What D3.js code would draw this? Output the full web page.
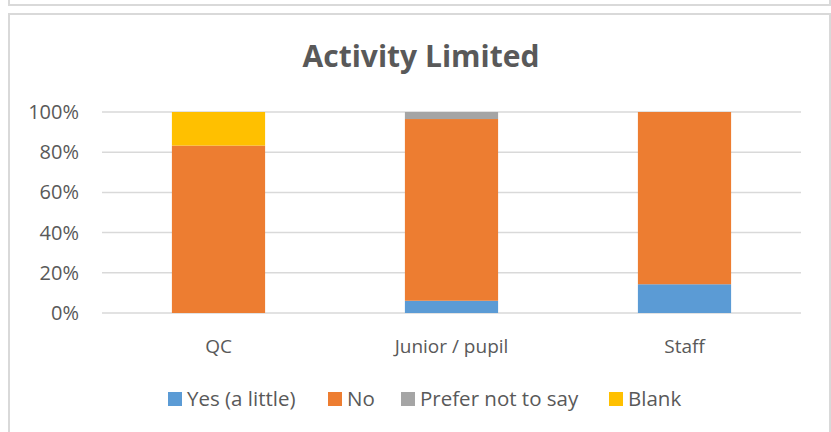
<!DOCTYPE html>
<html>
<head>
<meta charset="utf-8">
<script src="https://cdn.jsdelivr.net/npm/d3@7"></script>
<style>
  body { margin: 0; background: #fff; }
  svg { display: block; }
  text { font-family: "Open Sans", sans-serif; fill: #595959; }
</style>
</head>
<body>
<script>
var categories = ['QC', 'Junior / pupil', 'Staff'];
var seriesNames = ['Yes (a little)', 'No', 'Prefer not to say', 'Blank'];
var seriesColors = ['#5B9BD5', '#ED7D31', '#A5A5A5', '#FFC000'];
var yesValues = [0, 0.061, 0.143];
var noValues = [0.833, 0.904, 0.857];
var preferValues = [0, 0.035, 0];
var blankValues = [0.167, 0, 0];
var tickValues = [0, 0.2, 0.4, 0.6, 0.8, 1];

var w = 831, h = 432;
var margin = {left: 102, right: 30, top: 112, bottom: 119};

var svg = d3.select('body').append('svg')
    .attr('width', w)
    .attr('height', h);

svg.append('rect').attr('width', w).attr('height', h).attr('fill', 'white');

// frame of previous chart (only its bottom part visible) and this chart's frame
svg.append('path')
   .attr('d', 'M9,0 V5 H830 V0')
   .attr('fill', 'none').attr('stroke', '#d9d9d9').attr('stroke-width', 2);
svg.append('path')
   .attr('d', 'M9,440 V14 H830 V440')
   .attr('fill', 'none').attr('stroke', '#d9d9d9').attr('stroke-width', 2);

svg.append('text')
   .attr('x', 421).attr('y', 67)
   .attr('text-anchor', 'middle')
   .style('font-size', '30px')
   .style('font-weight', 'bold')
   .text('Activity Limited');

var rows = categories.map(function(c, i){
    return {cat: c, s0: yesValues[i], s1: noValues[i], s2: preferValues[i], s3: blankValues[i]};
});
var stack = d3.stack().keys(['s0', 's1', 's2', 's3']);
var layers = stack(rows);

var x = d3.scaleBand().domain(categories)
    .range([margin.left, w - margin.right])
    .paddingInner(0.6).paddingOuter(0.3);
var y = d3.scaleLinear().domain([0, 1]).range([h - margin.bottom, margin.top]);

var g = svg.append('g');

g.selectAll('line.grid')
 .data(tickValues)
 .enter().append('line')
 .attr('class', 'grid')
 .attr('x1', margin.left).attr('x2', w - margin.right)
 .attr('y1', function(d){ return y(d); })
 .attr('y2', function(d){ return y(d); })
 .attr('stroke', '#d9d9d9').attr('stroke-width', 1.5);

g.selectAll('text.tick')
 .data(tickValues)
 .enter().append('text')
 .attr('class', 'tick')
 .attr('x', 79)
 .attr('y', function(d){ return y(d) + 7; })
 .attr('text-anchor', 'end')
 .style('font-size', '20px')
 .text(d3.format('.0%'));

layers.forEach(function(layer, li){
    g.selectAll('rect.s' + li)
     .data(layer)
     .enter().append('rect')
     .attr('class', 's' + li)
     .attr('x', function(d){ return x(d.data.cat); })
     .attr('width', x.bandwidth())
     .attr('y', function(d){ return y(d[1]); })
     .attr('height', function(d){ return y(d[0]) - y(d[1]); })
     .attr('fill', seriesColors[li]);
});

g.selectAll('text.cat')
 .data(categories)
 .enter().append('text')
 .attr('class', 'cat')
 .attr('x', function(d){ return x(d) + x.bandwidth() / 2; })
 .attr('y', 353)
 .attr('text-anchor', 'middle')
 .style('font-size', '19px')
 .text(function(d){ return d; });

// legend
var legendX = [168, 328, 401, 609];
var legend = svg.selectAll('g.legend')
    .data(seriesNames)
    .enter().append('g')
    .attr('class', 'legend')
    .attr('transform', function(d, i){ return 'translate(' + legendX[i] + ',392)'; });
legend.append('rect')
      .attr('width', 14).attr('height', 14)
      .attr('fill', function(d, i){ return seriesColors[i]; });
legend.append('text')
      .attr('x', 19).attr('y', 14)
      .style('font-size', '20.5px')
      .text(function(d){ return d; });
</script>
</body>
</html>
